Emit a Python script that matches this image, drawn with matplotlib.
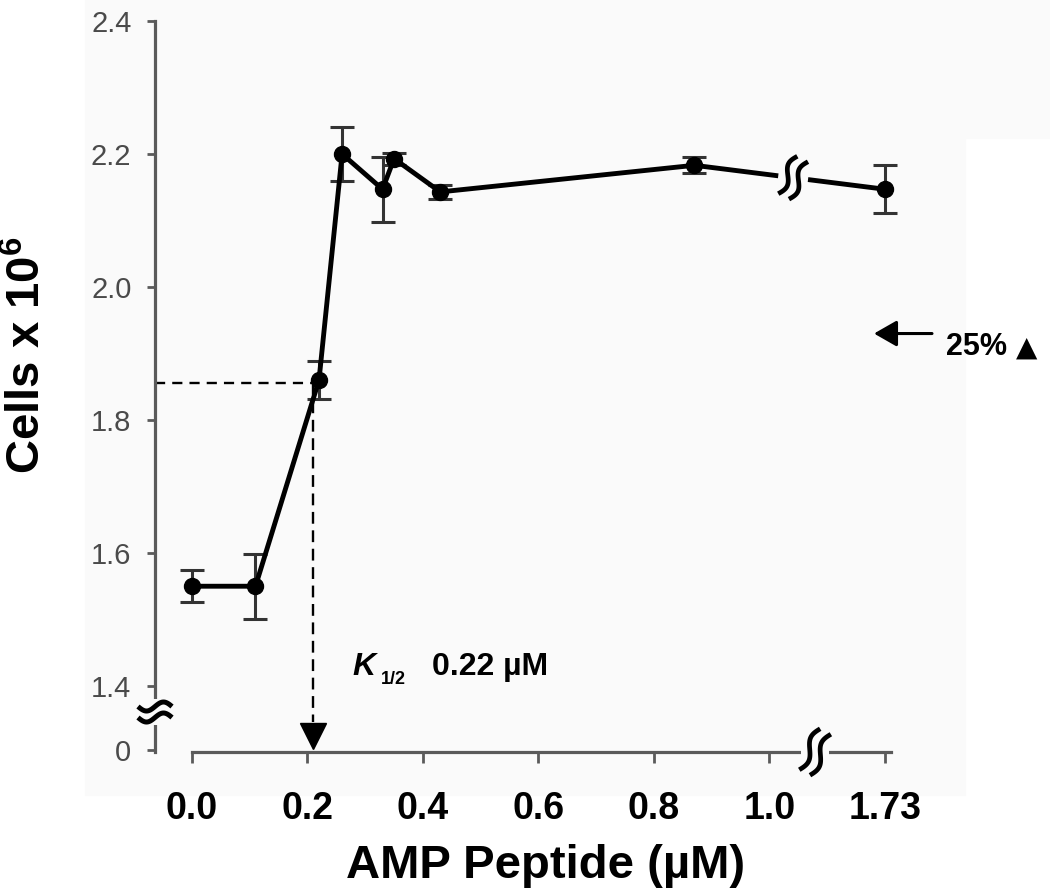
import numpy as np
import matplotlib
matplotlib.use("Agg")
import matplotlib.pyplot as plt
from matplotlib.transforms import ScaledTranslation, blended_transform_factory
from matplotlib.patches import Rectangle

# ---------------- data ----------------
conc_uM = [0.0, 0.11, 0.22, 0.26, 0.33, 0.35, 0.43, 0.87, 1.73]
cells_1e6 = [1.55, 1.55, 1.86, 2.20, 2.147, 2.193, 2.143, 2.183, 2.147]
cells_sd = [0.024, 0.049, 0.028, 0.040, 0.049, 0.009, 0.010, 0.012, 0.036]

x_ticks = [0.0, 0.2, 0.4, 0.6, 0.8, 1.0, 1.73]
x_tick_labels = ["0.0", "0.2", "0.4", "0.6", "0.8", "1.0", "1.73"]
y_ticks = [0, 1.4, 1.6, 1.8, 2.0, 2.2, 2.4]
y_tick_labels = ["0", "1.4", "1.6", "1.8", "2.0", "2.2", "2.4"]

k_half_cells = 1.856      # half-maximal level (dashed guide)
k_guide_x = 0.21          # position of vertical dashed guide
k_label = "0.22 \u00b5M"
increase_level = 1.93     # level of the "25%" arrow
increase_label = "25%"

# broken-axis scales
X_BRK, X_END, X_SPAN = 1.0, 1.73, 0.2      # 1.0 -> 1.73 squeezed into 0.2
Y_BRK, Y_SPAN = 1.4, 0.0962                # 0 -> 1.4 squeezed into 0.0962


def fwd_x(x):
    x = np.asarray(x, dtype=float)
    return np.where(x <= X_BRK, x, X_BRK + (x - X_BRK) * X_SPAN / (X_END - X_BRK))


def inv_x(u):
    u = np.asarray(u, dtype=float)
    return np.where(u <= X_BRK, u, X_BRK + (u - X_BRK) * (X_END - X_BRK) / X_SPAN)


def fwd_y(y):
    y = np.asarray(y, dtype=float)
    return np.where(y >= Y_BRK, y, Y_BRK - (Y_BRK - y) * Y_SPAN / Y_BRK)


def inv_y(v):
    v = np.asarray(v, dtype=float)
    return np.where(v >= Y_BRK, v, Y_BRK - (Y_BRK - v) * Y_BRK / Y_SPAN)


plt.rcParams["font.family"] = ["Liberation Sans", "DejaVu Sans"]
plt.rcParams["mathtext.fontset"] = "custom"
plt.rcParams["mathtext.rm"] = "Liberation Sans:bold"
plt.rcParams["mathtext.it"] = "Liberation Sans:bold"
plt.rcParams["mathtext.bf"] = "Liberation Sans:bold"

W, H = 1050, 893
fig = plt.figure(figsize=(W / 100, H / 100), dpi=100)
fig.patch.set_facecolor("white")


def fx(p):
    return p / W


def fy(p):
    return 1 - p / H


BG = "#fafafa"
fig.patches.append(Rectangle((fx(85), fy(795)), fx(965 - 85), 795 / H,
                             transform=fig.transFigure, color=BG, zorder=-5))
fig.patches.append(Rectangle((fx(965), fy(138)), fx(85), 138 / H,
                             transform=fig.transFigure, color=BG, zorder=-5))

ax = fig.add_axes([fx(155), 141 / H, 885 / W, 731 / H])
ax.patch.set_visible(False)
ax.set_xscale("function", functions=(fwd_x, inv_x))
ax.set_yscale("function", functions=(fwd_y, inv_y))
ax.set_xlim(-0.064, 2.71)
ax.set_ylim(-0.045, 2.4)

AXC = "#5a5a5a"
for s in ("top", "right"):
    ax.spines[s].set_visible(False)
for s in ("left", "bottom"):
    ax.spines[s].set_color(AXC)
    ax.spines[s].set_linewidth(2.3)
ax.spines["bottom"].set_bounds(0, 1.77)

ax.set_xticks(x_ticks, x_tick_labels, fontsize=27, fontweight="bold")
ax.set_yticks(y_ticks, y_tick_labels, fontsize=21, color="#4a4a4a")
ax.minorticks_off()
ax.tick_params(axis="x", length=8, width=2, color=AXC, pad=20)
ax.tick_params(axis="y", length=6, width=2, color=AXC, pad=11)

# ---------------- data marks ----------------
ax.errorbar(conc_uM, cells_1e6, yerr=cells_sd, fmt="none", ecolor="#333333",
            elinewidth=2.2, capsize=8.3, capthick=2.2, zorder=3)
ax.plot(conc_uM, cells_1e6, "-", color="black", lw=3.5, zorder=4)
ax.plot(conc_uM, cells_1e6, "o", color="black", ms=11.5, zorder=5)

# dashed guides for K1/2
ax.plot([ax.get_xlim()[0], k_guide_x], [k_half_cells, k_half_cells], color="black",
        lw=1.7, dashes=(4.3, 3), zorder=2, clip_on=False)
ax.plot([k_guide_x, k_guide_x], [k_half_cells, 0.62], color="black",
        lw=1.7, dashes=(5, 2.8), zorder=2, clip_on=False)
ax.plot([k_guide_x], [0.3], marker="v", color="black", ms=19, zorder=6, clip_on=False)


# ---------------- break symbols ----------------
def break_mark(anchor_tr, x0, y0, angle_deg, length, amp, sep, gap_dir_deg, gap_len, gap_w, lw):
    """Draw a double wavy break (sizes in pixels) anchored at (x0, y0) in anchor_tr."""
    tr = fig.dpi_scale_trans + ScaledTranslation(x0, y0, anchor_tr)
    g = np.deg2rad(gap_dir_deg)
    gx = np.array([-1, 1]) * gap_len / 2 * np.cos(g) / 100
    gy = np.array([-1, 1]) * gap_len / 2 * np.sin(g) / 100
    ax.plot(gx, gy, color=BG, lw=gap_w * 0.72, solid_capstyle="butt",
            transform=tr, zorder=7, clip_on=False)
    t = np.linspace(-1, 1, 60)
    a = np.deg2rad(angle_deg)
    d = np.array([np.cos(a), np.sin(a)])
    n = np.array([-np.sin(a), np.cos(a)])
    for off in (-sep / 2, sep / 2):
        along = t * length / 2
        perp = amp * np.sin(np.pi * t) + off
        px = along * d[0] + perp * n[0]
        py = along * d[1] + perp * n[1]
        ax.plot(px / 100, py / 100, color="black", lw=lw, transform=tr,
                zorder=8, clip_on=False, solid_capstyle="butt")


# y-axis break (between 0 and 1.4)
break_mark(blended_transform_factory(ax.transAxes, ax.transData), 0.0, 0.83,
           0, 34, 4.5, 11, 90, 26, 8, 3.6)
# x-axis break (between 1.0 and 1.73)
break_mark(blended_transform_factory(ax.transData, ax.transAxes), float(inv_x(1.079)), 0.0,
           63, 46, 4.5, 12, 0, 28, 8, 3.4)
# data-line break
xb = 1.041
yb = float(np.interp(xb, fwd_x(conc_uM[-2:]), cells_1e6[-2:]))
break_mark(ax.transData, float(inv_x(xb)), yb, 63, 42, 4.5, 12, -7, 30, 10, 3.4)

# ---------------- annotations ----------------
fig.text(fx(352), fy(675), "K", fontsize=23, fontweight="bold", style="italic",
         va="baseline", ha="left")
fig.text(fx(381), fy(684), "1/2", fontsize=13, fontweight="bold", va="baseline", ha="left")
fig.text(fx(432), fy(675), k_label, fontsize=23, fontweight="bold", va="baseline", ha="left")

ax.annotate("", xy=(fx(874), increase_level), xycoords=("figure fraction", "data"),
            xytext=(fx(932), increase_level), textcoords=("figure fraction", "data"),
            arrowprops=dict(arrowstyle="-|>,head_length=0.7,head_width=0.4",
                            lw=2.2, color="black", shrinkA=0, shrinkB=0,
                            mutation_scale=20),
            annotation_clip=False)
fig.text(fx(946), fy(355), increase_label, fontsize=22, fontweight="bold",
         va="baseline", ha="left")
fig.text(fx(1027), fy(356), "\u25b2", fontsize=20, family=["DejaVu Sans"],
         va="baseline", ha="center")

# axis titles
fig.text(fx(28), fy(355), r"Cells x 10$^{6}$", rotation=90, fontsize=34,
         fontweight="bold", ha="center", va="center")
fig.text(fx(546), fy(878), "AMP Peptide (\u00b5M)", fontsize=34, fontweight="bold",
         ha="center", va="baseline")

fig.savefig("out.png", dpi=100, facecolor="white")
